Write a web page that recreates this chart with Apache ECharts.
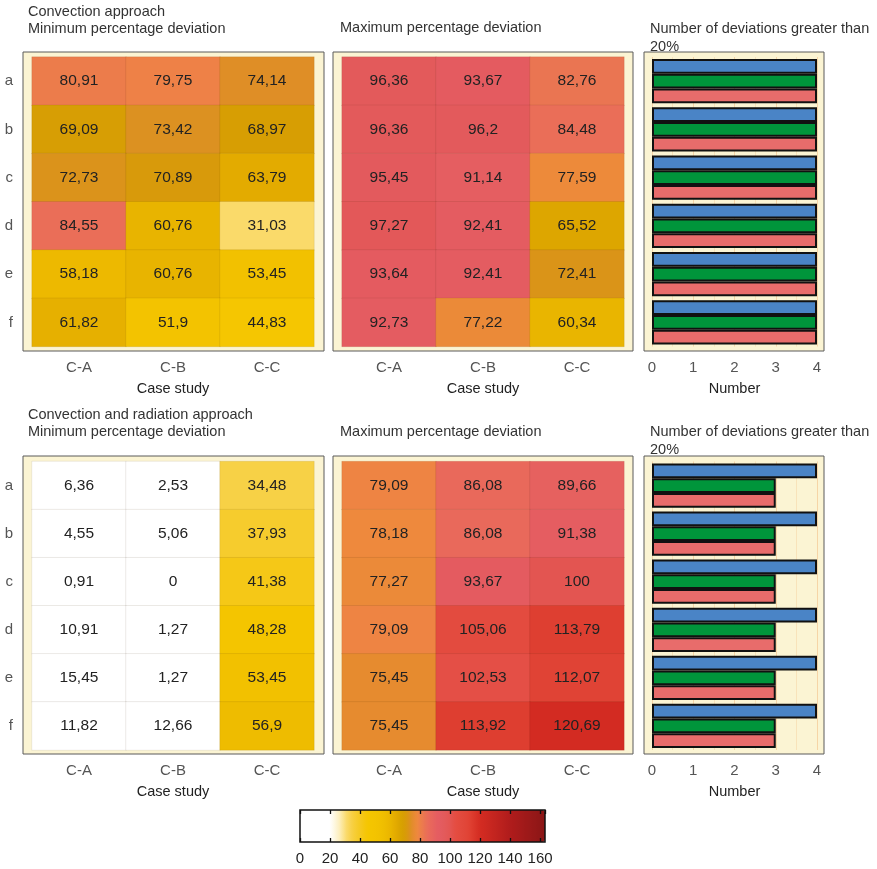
<!DOCTYPE html>
<html><head><meta charset="utf-8">
<script src="https://cdn.jsdelivr.net/npm/echarts@6/dist/echarts.min.js"></script>
<style>html,body{margin:0;padding:0;background:#fff}#c{width:877px;height:869px}</style>
</head><body><div id="c"></div>
<script>
// ---------- data ----------
const caseStudies = ['C-A', 'C-B', 'C-C'];
const configs = ['a', 'b', 'c', 'd', 'e', 'f'];
const convMin = [
  [80.91, 79.75, 74.14],
  [69.09, 73.42, 68.97],
  [72.73, 70.89, 63.79],
  [84.55, 60.76, 31.03],
  [58.18, 60.76, 53.45],
  [61.82, 51.9, 44.83]
];
const convMax = [
  [96.36, 93.67, 82.76],
  [96.36, 96.2, 84.48],
  [95.45, 91.14, 77.59],
  [97.27, 92.41, 65.52],
  [93.64, 92.41, 72.41],
  [92.73, 77.22, 60.34]
];
const convRadMin = [
  [6.36, 2.53, 34.48],
  [4.55, 5.06, 37.93],
  [0.91, 0, 41.38],
  [10.91, 1.27, 48.28],
  [15.45, 1.27, 53.45],
  [11.82, 12.66, 56.9]
];
const convRadMax = [
  [79.09, 86.08, 89.66],
  [78.18, 86.08, 91.38],
  [77.27, 93.67, 100],
  [79.09, 105.06, 113.79],
  [75.45, 102.53, 112.07],
  [75.45, 113.92, 120.69]
];
const convCountBlue = [4, 4, 4, 4, 4, 4];
const convCountGreen = [4, 4, 4, 4, 4, 4];
const convCountRed = [4, 4, 4, 4, 4, 4];
const radCountBlue = [4, 4, 4, 4, 4, 4];
const radCountGreen = [3, 3, 3, 3, 3, 3];
const radCountRed = [3, 3, 3, 3, 3, 3];
const numberRange = [0, 4];
const colorRange = [0, 163.3];

// ---------- style ----------
const FONT = "'Liberation Sans', Arial, sans-serif";
const colorAnchors = [
  [0, '#FFFFFF'], [20, '#FFFFFF'], [26, '#FDF0C0'], [31, '#FAD96A'], [35, '#F7D040'],
  [40, '#F5C920'], [45, '#F5C600'], [52, '#F3C300'], [58, '#EDBA00'], [61, '#E8B300'],
  [64, '#E2AA00'], [68, '#D6A000'], [71, '#D89A0A'], [73.5, '#DC9022'], [76, '#E88A32'],
  [78, '#EE8A3C'], [80, '#EE8048'], [83, '#EA7452'], [85, '#EA6C5A'], [92, '#E45C62'],
  [96, '#E35A5C'], [100, '#E35552'], [104, '#E44C40'], [112, '#E04436'], [114, '#DE3E30'],
  [120, '#D42C22'], [140, '#B01C1C'], [163.3, '#8A1616']
];
function hex2rgb(h) { return [1, 3, 5].map(i => parseInt(h.substr(i, 2), 16)); }
function colorAt(v) {
  for (let i = 1; i < colorAnchors.length; i++) {
    const [v1, c1] = colorAnchors[i];
    const [v0, c0] = colorAnchors[i - 1];
    if (v <= v1) {
      const t = (v - v0) / (v1 - v0);
      const a = hex2rgb(c0), b = hex2rgb(c1);
      return 'rgb(' + a.map((x, k) => Math.round(x + (b[k] - x) * t)).join(',') + ')';
    }
  }
  return colorAnchors[colorAnchors.length - 1][1];
}
const NSTOP = 200;
const gradient = [];
for (let i = 0; i < NSTOP; i++) gradient.push(colorAt(colorRange[0] + (colorRange[1] - colorRange[0]) * i / (NSTOP - 1)));

const cols = [
  { fl: 23, fw: 301, il: 32, iw: 282 },
  { fl: 333, fw: 300, il: 342, iw: 282 },
  { fl: 644, fw: 180, il: 652, iw: 165 }
];
const rowsL = [
  { ft: 52, fh: 299, it: 57, ih: 289.5 },
  { ft: 456, fh: 298, it: 461.5, ih: 288.5 }
];
const PANEL_BG = '#FBF4D3';

const grids = [], xAxes = [], yAxes = [], series = [], heatIdx = [];

function addFrame(c, r) {
  grids.push({ left: c.fl, top: r.ft, width: c.fw, height: r.fh, show: true,
    backgroundColor: PANEL_BG, borderColor: '#5a5a5a', borderWidth: 1, containLabel: false });
  const gi = grids.length - 1;
  xAxes.push({ gridIndex: gi, type: 'value', show: false });
  yAxes.push({ gridIndex: gi, type: 'value', show: false });
}
function innerGrid(c, r) {
  grids.push({ left: c.il, top: r.it, width: c.iw, height: r.ih, show: false, containLabel: false });
  return grids.length - 1;
}
const tickLabel = { fontSize: 15, color: '#555', fontFamily: FONT };
const nameStyle = { fontSize: 14.5, color: '#222', fontFamily: FONT };

function addHeat(c, r, values, showY) {
  addFrame(c, r);
  const gi = innerGrid(c, r);
  const xOff = (r.ft + r.fh) - (r.it + r.ih);
  xAxes.push({ gridIndex: gi, type: 'category', data: caseStudies, offset: xOff,
    axisLine: { show: false }, axisTick: { alignWithLabel: true, length: 4, lineStyle: { color: '#333', width: 1.3 } },
    axisLabel: Object.assign({ margin: 9 }, tickLabel), splitLine: { show: false },
    name: 'Case study', nameLocation: 'middle', nameGap: 30, nameTextStyle: nameStyle });
  yAxes.push({ gridIndex: gi, type: 'category', data: configs, inverse: true, show: showY,
    offset: c.il - c.fl, axisLine: { show: false },
    axisTick: { alignWithLabel: true, length: 5, lineStyle: { color: '#333', width: 1.3 } },
    axisLabel: Object.assign({ margin: 10 }, tickLabel), splitLine: { show: false } });
  const xi = xAxes.length - 1, yi = yAxes.length - 1;
  const data = [];
  values.forEach((row, ri) => row.forEach((v, ci) => data.push([ci, ri, v])));
  series.push({ type: 'heatmap', xAxisIndex: xi, yAxisIndex: yi, data: data,
    itemStyle: { borderColor: 'rgba(60,40,0,0.14)', borderWidth: 0.6 },
    label: { show: true, fontSize: 15.5, color: '#222', fontFamily: FONT,
      formatter: p => String(p.value[2]).replace('.', ',') },
    emphasis: { disabled: true } });
  heatIdx.push(series.length - 1);
}
function addBars(c, r, blue, green, red) {
  addFrame(c, r);
  const gi = innerGrid(c, r);
  const xOff = (r.ft + r.fh) - (r.it + r.ih);
  xAxes.push({ gridIndex: gi, type: 'value', min: numberRange[0], max: numberRange[1], interval: 1, offset: xOff,
    axisLine: { show: false }, axisTick: { length: 4, lineStyle: { color: '#333', width: 1.3 } },
    axisLabel: Object.assign({ margin: 9 }, tickLabel),
    splitLine: { show: true, lineStyle: { color: 'rgba(240,175,110,0.45)', width: 1 } },
    minorTick: { show: false, splitNumber: 2 },
    minorSplitLine: { show: true, lineStyle: { color: 'rgba(240,175,110,0.25)', width: 1 } },
    name: 'Number', nameLocation: 'middle', nameGap: 30, nameTextStyle: nameStyle });
  yAxes.push({ gridIndex: gi, type: 'category', data: configs, inverse: true, show: false });
  const xi = xAxes.length - 1, yi = yAxes.length - 1;
  [[blue, '#4A84C6'], [green, '#00953B'], [red, '#E86C6B']].forEach(([d, col]) => {
    series.push({ type: 'bar', xAxisIndex: xi, yAxisIndex: yi, data: d, barGap: '0%', barCategoryGap: '8%',
      itemStyle: { color: col, borderColor: '#111', borderWidth: 2 }, emphasis: { disabled: true } });
  });
}

addHeat(cols[0], rowsL[0], convMin, true);
addHeat(cols[1], rowsL[0], convMax, false);
addBars(cols[2], rowsL[0], convCountBlue, convCountGreen, convCountRed);
addHeat(cols[0], rowsL[1], convRadMin, true);
addHeat(cols[1], rowsL[1], convRadMax, false);
addBars(cols[2], rowsL[1], radCountBlue, radCountGreen, radCountRed);

// colorbar frame + ticks
grids.push({ left: 300, top: 810, width: 245, height: 32, show: true, backgroundColor: 'transparent',
  borderColor: '#111', borderWidth: 1.5, z: 10 });
const cg = grids.length - 1;
const cbTick = { inside: true, length: 4, lineStyle: { color: '#111', width: 1.3 } };
xAxes.push({ gridIndex: cg, type: 'value', min: colorRange[0], max: colorRange[1], interval: 20, position: 'bottom', z: 10,
  axisLine: { show: false }, axisTick: cbTick, splitLine: { show: false },
  axisLabel: { fontSize: 15, color: '#222', fontFamily: FONT, margin: 9, showMaxLabel: false } });
xAxes.push({ gridIndex: cg, type: 'value', min: colorRange[0], max: colorRange[1], interval: 20, position: 'top', z: 10,
  axisLine: { show: false }, axisTick: cbTick, splitLine: { show: false }, axisLabel: { show: false } });
yAxes.push({ gridIndex: cg, type: 'value', show: false });

const titleStyle = { fontSize: 14.5, color: '#333', fontWeight: 'normal', fontFamily: FONT, lineHeight: 17 };
const titles = [
  { text: 'Convection approach\nMinimum percentage deviation', left: 28, top: 3.5 },
  { text: 'Maximum percentage deviation', left: 340, top: 19.5 },
  { text: 'Number of deviations greater than\n20%', left: 650, top: 19.5, lh: 18.5 },
  { text: 'Convection and radiation approach\nMinimum percentage deviation', left: 28, top: 406 },
  { text: 'Maximum percentage deviation', left: 340, top: 423.5 },
  { text: 'Number of deviations greater than\n20%', left: 650, top: 422.5, lh: 18.5 }
].map(t => ({ text: t.text, left: t.left, top: t.top, padding: 0,
  textStyle: Object.assign({}, titleStyle, t.lh ? { lineHeight: t.lh } : {}) }));

const chart = echarts.init(document.getElementById('c'), null, { renderer: 'canvas' });
chart.setOption({
  animation: false,
  backgroundColor: '#ffffff',
  textStyle: { fontFamily: FONT },
  title: titles,
  grid: grids,
  xAxis: xAxes,
  yAxis: yAxes,
  visualMap: {
    type: 'continuous', min: colorRange[0], max: colorRange[1], seriesIndex: heatIdx, dimension: 2,
    orient: 'horizontal', left: 300, top: 810, itemWidth: 32, itemHeight: 245, padding: 0,
    calculable: false, hoverLink: false, text: null, inRange: { color: gradient }
  },
  series: series
});
</script></body></html>
